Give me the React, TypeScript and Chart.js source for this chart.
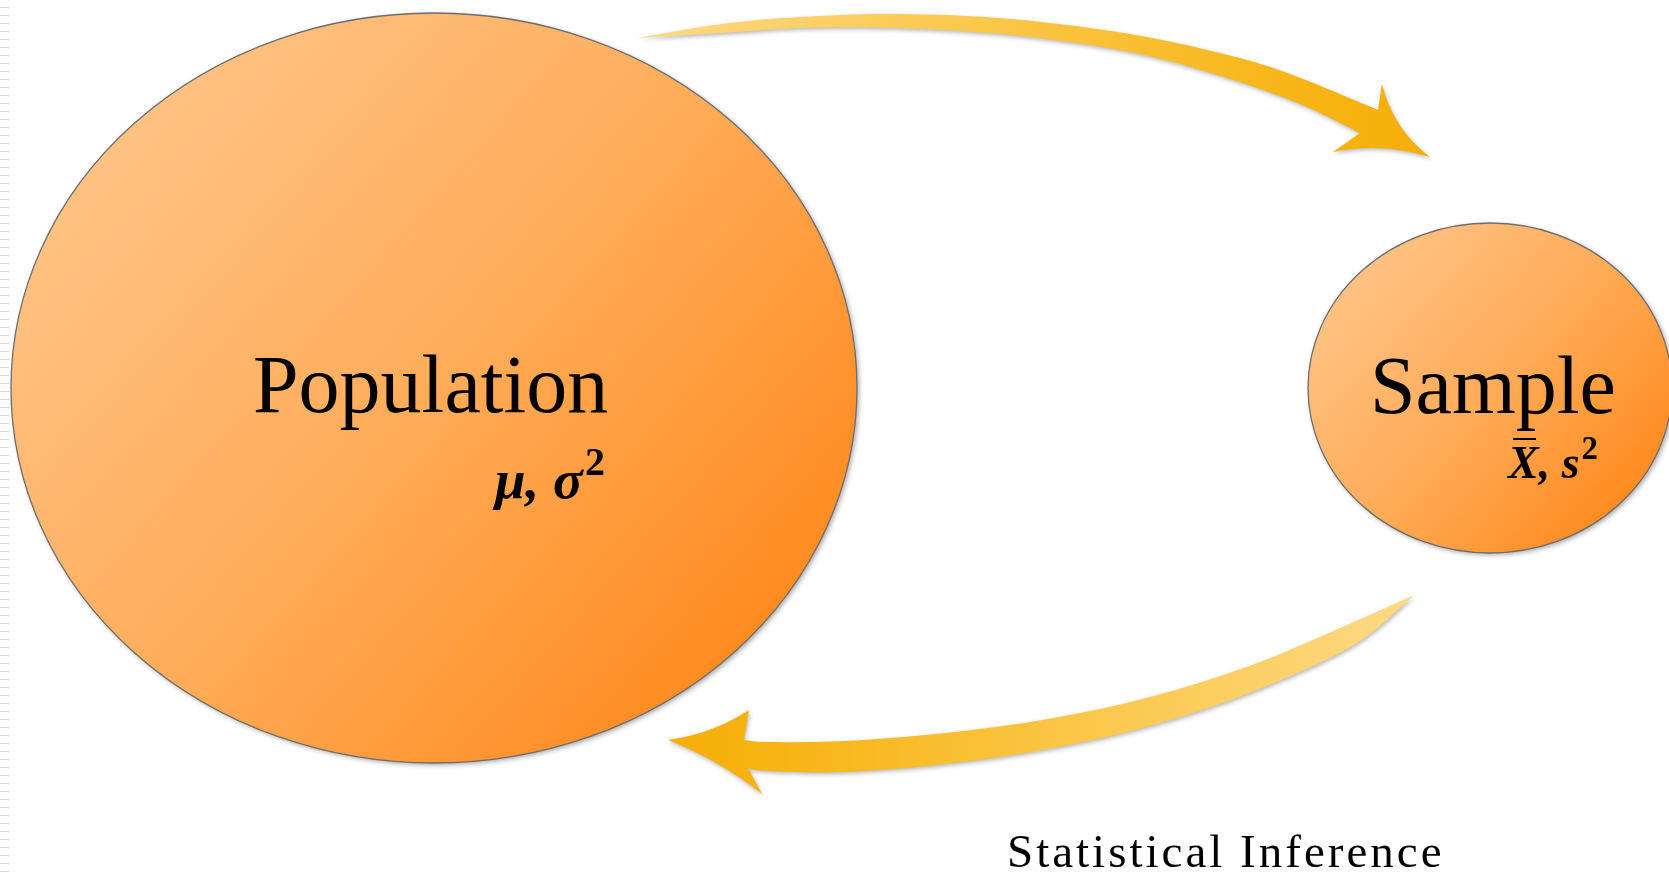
import React, { useEffect, useRef } from "react";
import { Chart, registerables } from "chart.js";

Chart.register(...registerables);

// ---- Diagram data (in chart value units: x 0..1669, y 0..879 top-down) ----
const nodeNames = ["Population", "Sample"];
const nodeCenterX = [434, 1490];
const nodeCenterY = [388, 388];
const nodeRadiusX = [423, 182];
const nodeRadiusY = [375, 165];

const nodeParamSymbols = ["μ, σ", "X, s"];
const nodeParamExponent = ["2", "2"];
const nodeParamOverline = [false, true];

const captionText = "Statistical Inference";

// Sampling arrow (Population -> Sample), outline points
const samplingUpperEdge = [
  [637, 38], [722, 24], [800, 17], [895, 14], [1011, 19], [1130, 34], [1224, 54], [1290, 74], [1378, 110],
];
const samplingHead = [
  [1382, 84], // barb top
  [1393, 129], // curve control
  [1430, 157], // tip
  [1381, 142], // curve control
  [1333, 152], // barb bottom
];
const samplingLowerEdge = [
  [1360, 133], [1300, 104], [1224, 77], [1130, 52], [1011, 35], [895, 28], [800, 28], [722, 33], [637, 38],
];

// Inference arrow (Sample -> Population), outline points
const inferenceUpperEdge = [
  [1414, 595], [1354, 622], [1252, 665], [1150, 697], [1048, 719], [946, 733], [844, 741], [768, 742], [744, 740],
];
const inferenceHead = [
  [749, 710],
  [712, 734],
  [668, 740],
  [719, 760],
  [762, 794],
];
const inferenceLowerEdge = [
  [748, 768], [768, 771], [844, 772], [946, 764], [1048, 749], [1150, 726], [1252, 692], [1354, 645], [1414, 595],
];

const arrowUpper = [samplingUpperEdge, inferenceUpperEdge];
const arrowHead = [samplingHead, inferenceHead];
const arrowLower = [samplingLowerEdge, inferenceLowerEdge];

// ---- Layout / style (not data) ----
const W = 1669;
const H = 879;
const nodeLabelAnchor = [
  [253, 412],
  [1370, 413],
];
const paramAnchor = [
  [495, 498],
  [1508, 478],
];
const paramFontSize = [55, 46];
const captionAnchor = [1007, 867];

type P = number[];

function catmull(ctx: CanvasRenderingContext2D, pts: P[], first: boolean) {
  if (first) ctx.moveTo(pts[0][0], pts[0][1]);
  else ctx.lineTo(pts[0][0], pts[0][1]);
  for (let i = 0; i < pts.length - 1; i++) {
    const p0 = pts[Math.max(0, i - 1)];
    const p1 = pts[i];
    const p2 = pts[i + 1];
    const p3 = pts[Math.min(pts.length - 1, i + 2)];
    const c1x = p1[0] + (p2[0] - p0[0]) / 6;
    const c1y = p1[1] + (p2[1] - p0[1]) / 6;
    const c2x = p2[0] - (p3[0] - p1[0]) / 6;
    const c2y = p2[1] - (p3[1] - p1[1]) / 6;
    ctx.bezierCurveTo(c1x, c1y, c2x, c2y, p2[0], p2[1]);
  }
}

const diagramPlugin = {
  id: "diagram",
  beforeDatasetsDraw(chart: any) {
    const { ctx } = chart;
    const xs = chart.scales.x;
    const ys = chart.scales.y;
    const px = (v: number) => xs.getPixelForValue(v);
    const py = (v: number) => ys.getPixelForValue(v);
    const map = (pts: P[]) => pts.map((p) => [px(p[0]), py(p[1])]);

    ctx.save();
    // slide border dashes on the left edge
    ctx.strokeStyle = "#d9d9d9";
    ctx.lineWidth = 1;
    for (let yy = 7.5; yy < chart.height; yy += 8) {
      ctx.beginPath();
      ctx.moveTo(0, yy);
      ctx.lineTo(9, yy);
      ctx.stroke();
    }

    // nodes (ellipses)
    for (let i = 0; i < nodeNames.length; i++) {
      const cx = px(nodeCenterX[i]);
      const cy = py(nodeCenterY[i]);
      const rx = Math.abs(px(nodeCenterX[i] + nodeRadiusX[i]) - cx);
      const ry = Math.abs(py(nodeCenterY[i] + nodeRadiusY[i]) - cy);
      const g = ctx.createLinearGradient(cx - rx * 0.75, cy - ry * 0.75, cx + rx * 0.75, cy + ry * 0.75);
      g.addColorStop(0, "#ffc385");
      g.addColorStop(0.5, "#ffac59");
      g.addColorStop(1, "#ff8a1e");
      ctx.save();
      ctx.shadowColor = "rgba(0,0,0,0.35)";
      ctx.shadowBlur = 5;
      ctx.shadowOffsetX = 2;
      ctx.shadowOffsetY = 2;
      ctx.beginPath();
      ctx.ellipse(cx, cy, rx, ry, 0, 0, Math.PI * 2);
      ctx.fillStyle = g;
      ctx.fill();
      ctx.restore();
      ctx.beginPath();
      ctx.ellipse(cx, cy, rx, ry, 0, 0, Math.PI * 2);
      ctx.strokeStyle = "#6e6e6e";
      ctx.lineWidth = 1.3;
      ctx.stroke();

      // labels
      ctx.fillStyle = "#000";
      ctx.textBaseline = "alphabetic";
      ctx.textAlign = "left";
      ctx.font = '82px "Liberation Serif", "Times New Roman", serif';
      const la = nodeLabelAnchor[i];
      ctx.fillText(nodeNames[i], px(la[0]), py(la[1]));

      const pa = paramAnchor[i];
      const fs = paramFontSize[i];
      ctx.font = `italic bold ${fs}px "Liberation Serif", serif`;
      const sx = px(pa[0]);
      const sy = py(pa[1]);
      ctx.fillText(nodeParamSymbols[i], sx, sy);
      const w = ctx.measureText(nodeParamSymbols[i]).width;
      if (nodeParamOverline[i]) {
        const xw = ctx.measureText("X").width;
        ctx.fillRect(Math.round(sx + xw * 0.15), Math.round(sy - fs * 0.88), Math.round(xw * 0.75), 2);
      }
      ctx.font = `bold ${Math.round(fs * 0.72)}px "Liberation Serif", serif`;
      ctx.fillText(nodeParamExponent[i], sx + w + fs * 0.04, sy - fs * 0.42);
    }

    // arrows
    for (let a = 0; a < arrowUpper.length; a++) {
      const up = map(arrowUpper[a]);
      const hd = map(arrowHead[a]);
      const lo = map(arrowLower[a]);
      const tailX = up[0][0];
      const tipX = hd[2][0];
      const g = ctx.createLinearGradient(tailX, 0, tipX, 0);
      g.addColorStop(0, "#fdd984");
      g.addColorStop(0.45, "#fbc748");
      g.addColorStop(0.85, "#f7b414");
      g.addColorStop(1, "#f6ae08");
      ctx.save();
      ctx.beginPath();
      catmull(ctx, up, true);
      ctx.lineTo(hd[0][0], hd[0][1]);
      ctx.quadraticCurveTo(hd[1][0], hd[1][1], hd[2][0], hd[2][1]);
      ctx.quadraticCurveTo(hd[3][0], hd[3][1], hd[4][0], hd[4][1]);
      catmull(ctx, lo, false);
      ctx.closePath();
      ctx.shadowColor = "rgba(0,0,0,0.28)";
      ctx.shadowBlur = 4;
      ctx.shadowOffsetX = 1;
      ctx.shadowOffsetY = 2;
      ctx.fillStyle = g;
      ctx.fill();
      ctx.restore();
    }

    // caption
    ctx.fillStyle = "#000";
    ctx.font = '47px "Liberation Serif", "Times New Roman", serif';
    (ctx as any).letterSpacing = "3px";
    ctx.fillText(captionText, px(captionAnchor[0]), py(captionAnchor[1]));
    (ctx as any).letterSpacing = "0px";
    ctx.restore();
  },
};

export default function App() {
  const ref = useRef<HTMLCanvasElement>(null);
  useEffect(() => {
    document.body.style.margin = "0";
    const chart = new Chart(ref.current!, {
      type: "scatter",
      data: {
        datasets: [
          {
            label: "nodes",
            data: nodeCenterX.map((x, i) => ({ x, y: nodeCenterY[i] })),
            pointRadius: 0,
            pointHoverRadius: 0,
          },
        ],
      },
      options: {
        animation: false,
        responsive: true,
        maintainAspectRatio: false,
        events: [],
        layout: { padding: 0 },
        plugins: { legend: { display: false }, tooltip: { enabled: false } },
        scales: {
          x: { type: "linear", min: 0, max: W, display: false },
          y: { type: "linear", min: 0, max: H, reverse: true, display: false },
        },
      },
      plugins: [diagramPlugin],
    });
    return () => chart.destroy();
  }, []);
  return (
    <div style={{ position: "fixed", left: 0, top: 0, width: W, height: H, background: "#fff" }}>
      <canvas ref={ref} />
    </div>
  );
}
